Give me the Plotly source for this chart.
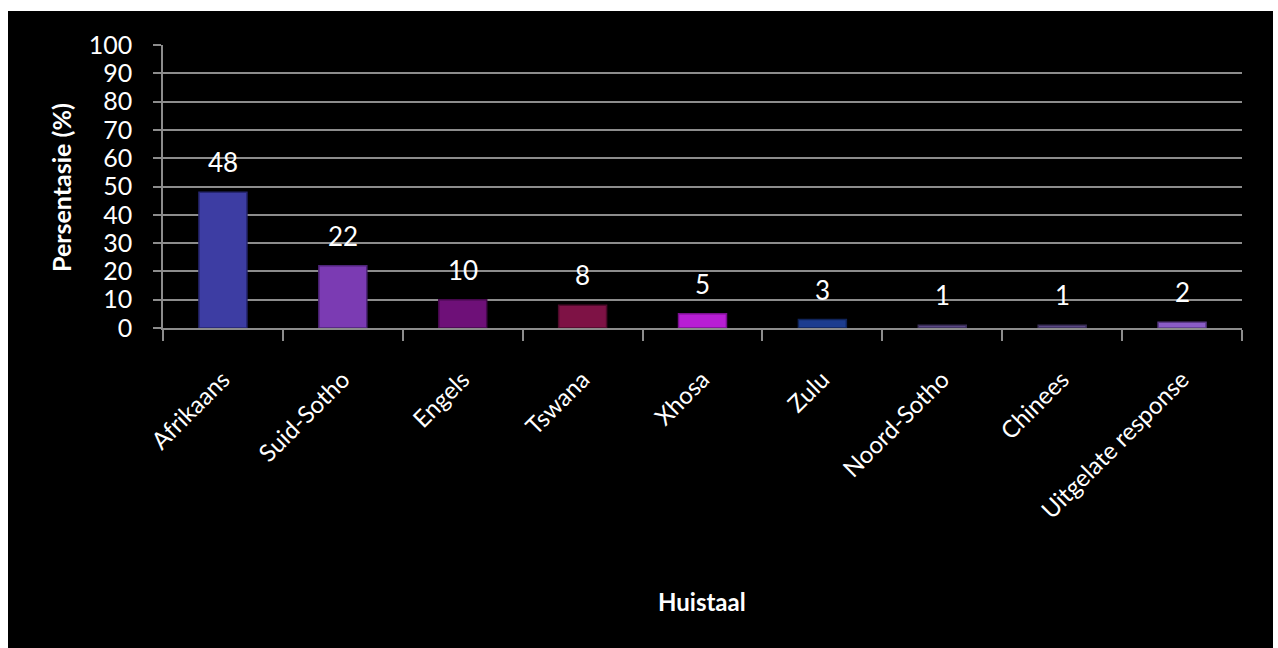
import plotly.graph_objects as go

categories = ["Afrikaans", "Suid-Sotho", "Engels", "Tswana", "Xhosa", "Zulu",
              "Noord-Sotho", "Chinees", "Uitgelate response"]
values = [48, 22, 10, 8, 5, 3, 1, 1, 2]
bar_colors = ["#3d3da3", "#7b3bb3", "#6e1078", "#7e1245", "#b81ed4", "#1d3d8f",
              "#5a4884", "#5a4884", "#8a5cc6"]
line_colors = ["#262670", "#4e2478", "#45084c", "#4e0a2a", "#7a1090", "#10245a",
               "#3a2e58", "#3a2e58", "#5a3a86"]
y_ticks = [0, 10, 20, 30, 40, 50, 60, 70, 80, 90, 100]

W, H = 1278, 648
L, R, T, B = 163, 36, 45, 320
PW, PH = W - L - R, H - T - B
FONT = "Lato"

fig = go.Figure()
fig.add_trace(go.Bar(
    x=categories, y=values,
    marker=dict(color=bar_colors, line=dict(color=line_colors, width=1.5)),
    width=0.4,
    hoverinfo="x+y",
))

for c, v in zip(categories, values):
    fig.add_annotation(x=c, y=v, text=str(v), showarrow=False, yshift=30,
                       yanchor="middle", xanchor="center",
                       font=dict(family=FONT, size=26, color="white"))

def px2x(px):
    return (px - L) / PW

def px2y(py):
    return (H - B - py) / PH

# black card on white page
fig.add_shape(type="rect", xref="paper", yref="paper",
              x0=px2x(8), x1=px2x(1273), y0=px2y(648), y1=px2y(11),
              fillcolor="black", line=dict(width=0), layer="below")

fig.add_annotation(xref="paper", yref="paper", x=px2x(61), y=px2y(188),
                   xanchor="center", yanchor="middle",
                   text="<b>Persentasie (%)</b>", textangle=-90, showarrow=False,
                   font=dict(family=FONT, size=25, color="white"))
fig.add_annotation(xref="paper", yref="paper", x=px2x(702), y=px2y(601),
                   xanchor="center", yanchor="middle",
                   text="<b>Huistaal</b>", showarrow=False,
                   font=dict(family=FONT, size=24, color="white"))

fig.update_layout(
    width=W, height=H,
    margin=dict(l=L, r=R, t=T, b=B, pad=0),
    paper_bgcolor="white",
    plot_bgcolor="#404040",
    showlegend=False,
    bargap=0.6,
    font=dict(family=FONT, color="white"),
)
fig.update_xaxes(
    type="category",
    tickangle=-45,
    tickfont=dict(family=FONT, size=24, color="white"),
    ticks="outside", tickson="boundaries", ticklen=11, tickwidth=1.5,
    tickcolor="#8c8c8c",
    showline=True, linecolor="#8c8c8c", linewidth=2,
    ticklabelstandoff=26,
    showgrid=False,
)
fig.update_yaxes(
    range=[0, 100],
    tickvals=y_ticks,
    tickfont=dict(family=FONT, size=25, color="white"),
    ticks="outside", ticklen=8, tickwidth=2, tickcolor="#8c8c8c",
    showline=True, linecolor="#8c8c8c", linewidth=1.5,
    gridcolor="#8c8c8c", gridwidth=2,
    ticklabelstandoff=16,
    zeroline=False,
)

fig.write_html("out.html")
